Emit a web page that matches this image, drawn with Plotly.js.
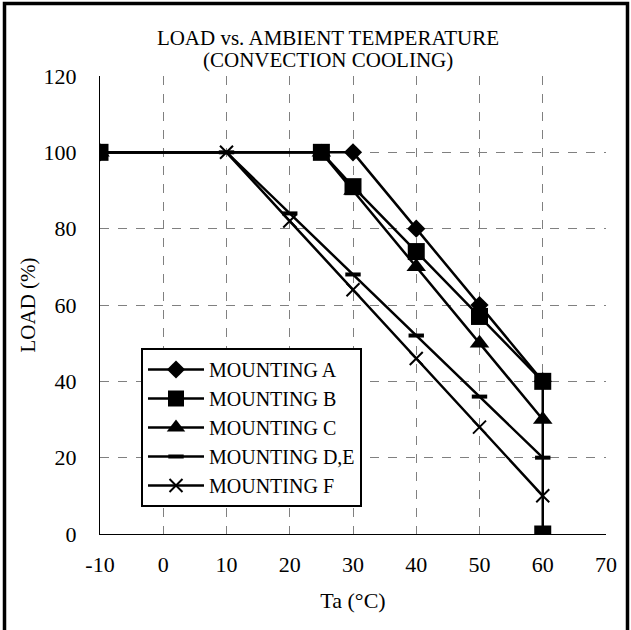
<!DOCTYPE html>
<html>
<head>
<meta charset="utf-8">
<script src="https://cdn.plot.ly/plotly-3.0.1.min.js"></script>
<style>
  html, body { margin: 0; padding: 0; background: #fff; }
  #chart { width: 631px; height: 630px; }
</style>
</head>
<body>
<div id="chart"></div>
<script>
// ---- data ----
const seriesNames = ["MOUNTING A", "MOUNTING B", "MOUNTING C", "MOUNTING D,E", "MOUNTING F"];
const tempA = [-10, 30, 40, 50, 60];
const loadA = [100, 100, 80, 60, 40];
const tempB = [-10, 25, 30, 40, 50, 60, 60];
const loadB = [100, 100, 91, 74, 57, 40, 0];
const tempC = [-10, 25, 30, 40, 50, 60];
const loadC = [100, 100, 90, 70, 50, 30];
const tempDE = [-10, 10, 20, 30, 40, 50, 60];
const loadDE = [100, 100, 84, 68, 52, 36, 20];
const tempF = [-10, 10, 20, 30, 40, 50, 60];
const loadF = [100, 100, 82, 64, 46, 28, 10];
const xTicks = [-10, 0, 10, 20, 30, 40, 50, 60, 70];
const yTicks = [0, 20, 40, 60, 80, 100, 120];

const FONT = "'Liberation Serif', 'Times New Roman', serif";
const lineStyle = {color: "#000", width: 2.5};

const traces = [
  {x: tempA, y: loadA, name: seriesNames[0], mode: "lines+markers", line: lineStyle,
   marker: {symbol: "diamond", size: 14, color: "#000"}, legendgroup: "a"},
  {x: tempB, y: loadB, name: seriesNames[1], mode: "lines+markers", line: lineStyle,
   marker: {symbol: "square", size: 17, color: "#000"}, legendgroup: "b"},
  {x: tempC, y: loadC, name: seriesNames[2], mode: "lines+markers", line: lineStyle,
   marker: {symbol: "triangle-up", size: 17, color: "#000"}, legendgroup: "c"},
  {x: tempDE, y: loadDE, name: seriesNames[3], mode: "lines+markers", line: lineStyle,
   marker: {symbol: "line-ew-open", size: 11, color: "#000", line: {color: "#000", width: 4}}, legendgroup: "d"},
  {x: tempF, y: loadF, name: seriesNames[4], mode: "lines+markers", line: lineStyle,
   marker: {symbol: "x-thin-open", size: 13, color: "#000", line: {color: "#000", width: 2}}, legendgroup: "f"}
];

const L = 100, R = 25, T = 76, B = 96;
const W = 631, H = 630;
const pw = W - L - R, ph = H - T - B;

const layout = {
  width: W, height: H,
  margin: {l: L, r: R, t: T, b: B, pad: 0},
  paper_bgcolor: "#fff", plot_bgcolor: "#fff",
  font: {family: FONT, color: "#000", size: 21},
  showlegend: true,
  title: {
    text: "LOAD vs. AMBIENT TEMPERATURE",
    font: {family: FONT, size: 21, color: "#000"},
    xref: "container", x: 328 / W, xanchor: "center",
    yref: "container", y: 1 - 38 / H, yanchor: "middle"
  },
  annotations: [{
    text: "(CONVECTION COOLING)",
    xref: "paper", yref: "paper",
    x: (328 - L) / pw, y: (T + ph - 60) / ph,
    xanchor: "center", yanchor: "middle", showarrow: false,
    font: {family: FONT, size: 21, color: "#000"}
  }],
  xaxis: {
    range: [-10, 70], tickvals: xTicks, ticktext: xTicks.map(String),
    showgrid: true, gridcolor: "#808080", gridwidth: 1, griddash: "dash",
    zeroline: false, showline: true, linecolor: "#000", linewidth: 1,
    ticks: "", ticklabelstandoff: 11,
    tickfont: {family: FONT, size: 22, color: "#000"},
    title: {text: "Ta (°C)", font: {family: FONT, size: 22, color: "#000"}, standoff: 16},
    automargin: false, fixedrange: true
  },
  yaxis: {
    range: [0, 120], tickvals: yTicks, ticktext: yTicks.map(String),
    showgrid: true, gridcolor: "#808080", gridwidth: 1, griddash: "dash",
    zeroline: false, showline: true, linecolor: "#000", linewidth: 1,
    ticks: "", ticklabelstandoff: 18,
    tickfont: {family: FONT, size: 22, color: "#000"},
    title: {text: "LOAD (%)", font: {family: FONT, size: 21, color: "#000"}, standoff: 2},
    automargin: false, fixedrange: true
  },
  legend: {
    x: (141 - L) / pw, y: (T + ph - 348) / ph, xanchor: "left", yanchor: "top",
    bgcolor: "#fff", bordercolor: "#000", borderwidth: 2,
    font: {family: FONT, size: 20, color: "#000"},
    tracegroupgap: 7, traceorder: "normal", itemwidth: 56
  },
  shapes: [{
    type: "rect", xref: "paper", yref: "paper",
    x0: (4.5 - L) / pw, x1: (627.5 - L) / pw,
    y0: -0.3, y1: (T + ph - 3.5) / ph,
    line: {color: "#000", width: 3.5}, fillcolor: "rgba(0,0,0,0)", layer: "above"
  }]
};

Plotly.newPlot("chart", traces, layout, {displayModeBar: false, staticPlot: true});
</script>
</body>
</html>
